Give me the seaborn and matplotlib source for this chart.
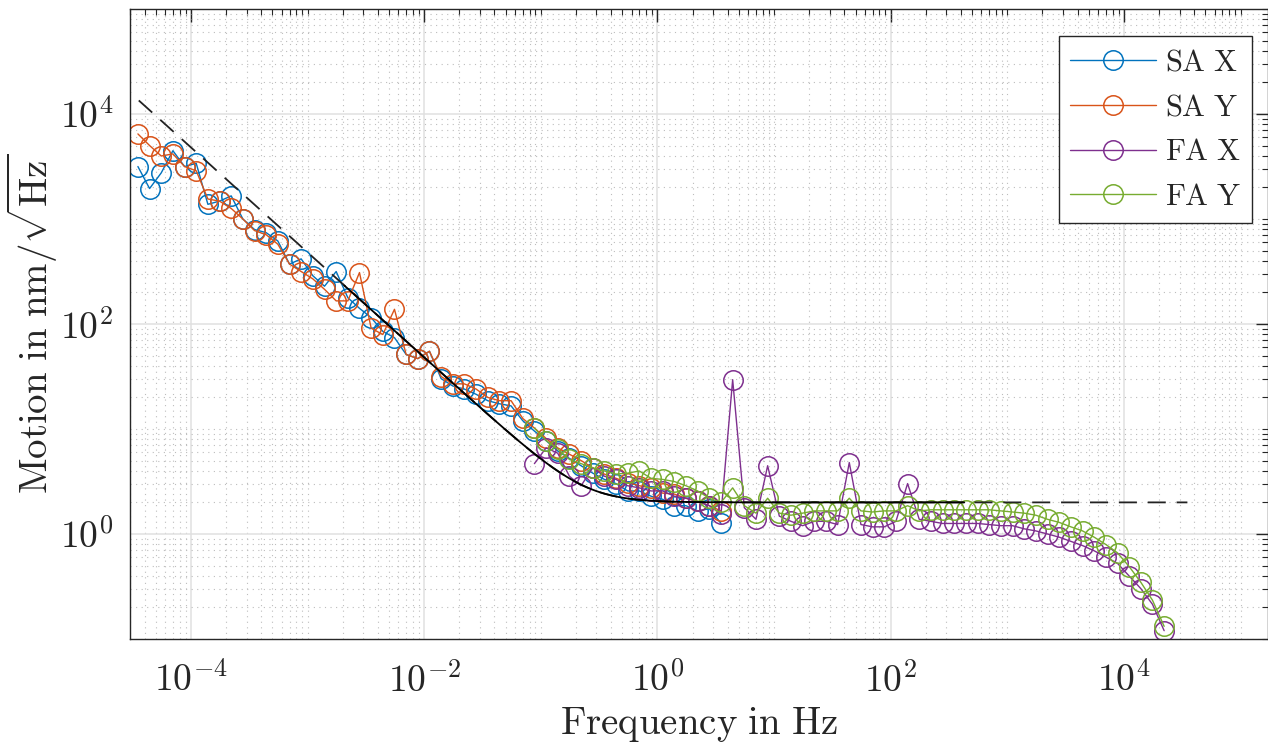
import numpy as np
import matplotlib
matplotlib.use("Agg")
import matplotlib.pyplot as plt
import matplotlib.ticker as mticker
import seaborn as sns

# frequency grids (log spaced, 10 points per decade)
freq_sa = np.logspace(-4.455, 0.545, 51)
freq_fa = np.logspace(-1.055, 4.345, 55)

# amplitude spectral densities in nm/sqrt(Hz)
sa_x = [3160, 1950, 2750, 4470, 3160, 3390, 1380, 1480, 1660, 1000,
        794, 741, 617, 372, 417, 288, 229, 316, 178, 141,
        115, 85.1, 74.1, 51.3, 46.8, 55.0, 30.2, 25.7, 24.0, 21.4,
        18.6, 17.4, 16.6, 12.0, 9.55, 7.76, 6.17, 5.25, 4.47, 3.80,
        3.31, 3.02, 2.57, 2.57, 2.29, 2.14, 1.86, 1.86, 1.66, 1.74,
        1.26]
sa_y = [6460, 5010, 3980, 4170, 3160, 2880, 1550, 1480, 1260, 1000,
        776, 708, 575, 372, 316, 269, 214, 166, 166, 309,
        91.2, 79.4, 138, 51.3, 46.8, 55.0, 31.6, 26.9, 26.9, 24.0,
        20.0, 18.6, 18.6, 12.6, 10.2, 8.13, 6.61, 5.75, 5.01, 4.27,
        3.72, 3.39, 3.09, 2.88, 2.75, 2.45, 2.40, 2.19, 2.04, 1.86,
        1.66]
fa_x = [4.68, 6.61, 5.89, 3.55, 2.88, 4.27, 3.55, 3.31, 2.88, 2.75,
        2.57, 2.57, 2.29, 2.19, 2.04, 1.86, 1.55, 29.5, 1.78, 1.38,
        4.47, 1.48, 1.32, 1.20, 1.32, 1.32, 1.23, 4.79, 1.23, 1.17,
        1.17, 1.32, 3.02, 1.38, 1.32, 1.26, 1.26, 1.26, 1.26, 1.23,
        1.20, 1.20, 1.12, 1.07, 1.00, 0.933, 0.851, 0.776, 0.692, 0.603,
        0.525, 0.398, 0.302, 0.214, 0.120]
fa_y = [10.2, 7.76, 6.46, 5.13, 4.68, 4.27, 3.98, 3.72, 3.80, 3.98,
        3.39, 3.31, 3.16, 2.88, 2.57, 2.19, 2.00, 2.75, 1.86, 1.58,
        2.19, 1.58, 1.51, 1.58, 1.66, 1.66, 1.66, 2.19, 1.66, 1.62,
        1.66, 1.66, 1.86, 1.66, 1.70, 1.70, 1.70, 1.70, 1.70, 1.70,
        1.66, 1.62, 1.58, 1.51, 1.38, 1.29, 1.17, 1.07, 0.933, 0.794,
        0.661, 0.490, 0.347, 0.234, 0.132]

series_names = [r"$\mathrm{SA\ X}$", r"$\mathrm{SA\ Y}$", r"$\mathrm{FA\ X}$", r"$\mathrm{FA\ Y}$"]
series_colors = ["#0072BD", "#D95319", "#7E2F8E", "#77AC30"]

x_ticks = [1e-4, 1e-2, 1e0, 1e2, 1e4]
y_ticks = [1e0, 1e2, 1e4]

# noise model: sqrt((a/f)^2 + b^2)
model_coef = 0.48
model_floor = 2.0
model_range = (1e-5, 3.5e4)
fit_range = (2e-3, 430)

sns.set_style("white")
plt.rcParams["mathtext.fontset"] = "cm"
plt.rcParams["font.family"] = ["DejaVu Serif"]

fig = plt.figure(figsize=(12.68, 7.54), dpi=100)
ax = fig.add_axes([130 / 1268, 115 / 754, 1138 / 1268, 630 / 754])
ax.set_xscale("log")
ax.set_yscale("log")

freqs = [freq_sa, freq_sa, freq_fa, freq_fa]
values = [sa_x, sa_y, fa_x, fa_y]
for name, color, f, v in zip(series_names, series_colors, freqs, values):
    sns.lineplot(x=f, y=v, ax=ax, color=color, lw=1.0, marker="o",
                 markersize=14, markerfacecolor="none", markeredgecolor=color,
                 markeredgewidth=1.1, label=name, estimator=None, sort=False)

f_model = np.logspace(np.log10(model_range[0]), np.log10(model_range[1]), 500)
noise = np.sqrt((model_coef / f_model) ** 2 + model_floor ** 2)
ax.plot(f_model, noise, color="#222222", lw=1.3, linestyle=(0, (10, 6)))
mask = (f_model >= fit_range[0]) & (f_model <= fit_range[1])
ax.plot(f_model[mask], noise[mask], color="black", lw=1.3)

ax.set_xlim(3e-5, 1.72e5)
ax.set_ylim(0.1, 1e5)

fmt = mticker.FuncFormatter(lambda v, p: r"$10^{%d}$" % round(np.log10(v)))
for axis, ticks in ((ax.xaxis, x_ticks), (ax.yaxis, y_ticks)):
    axis.set_major_locator(mticker.FixedLocator(ticks))
    axis.set_minor_locator(mticker.LogLocator(base=10, subs=np.arange(1, 10), numticks=200))
    axis.set_major_formatter(fmt)
    axis.set_minor_formatter(mticker.NullFormatter())

ax.grid(which="major", color="#e0e0e0", lw=1.1, ls="-")
ax.grid(which="minor", color="#bdbdbd", lw=0.8, ls=(0, (1, 4)))
ax.set_axisbelow(True)

for s in ax.spines.values():
    s.set_color("#262626")
    s.set_linewidth(1.0)
ax.tick_params(which="both", direction="in", top=True, right=True, colors="#262626")
ax.tick_params(which="major", length=9, width=1.0, labelsize=27)
ax.tick_params(axis="x", which="major", pad=17)
ax.tick_params(axis="y", which="major", pad=12)
ax.tick_params(which="minor", length=4.5, width=0.8)

ax.set_xlabel(r"$\mathrm{Frequency\ in\ Hz}$", fontsize=28, labelpad=4)
ax.set_ylabel(r"$\mathrm{Motion\ in\ nm}/\sqrt{\mathrm{Hz}}$", fontsize=28, labelpad=0)

leg = ax.legend(loc="upper right", bbox_to_anchor=(1252 / 1268, 1 - 36 / 754),
                bbox_transform=fig.transFigure, fontsize=22, frameon=True,
                fancybox=False, framealpha=1, edgecolor="#262626",
                handlelength=2.8, handletextpad=0.3, labelspacing=0.45,
                borderpad=0.35, borderaxespad=0)
leg.get_frame().set_linewidth(1.0)

fig.savefig("out.png", dpi=100)
